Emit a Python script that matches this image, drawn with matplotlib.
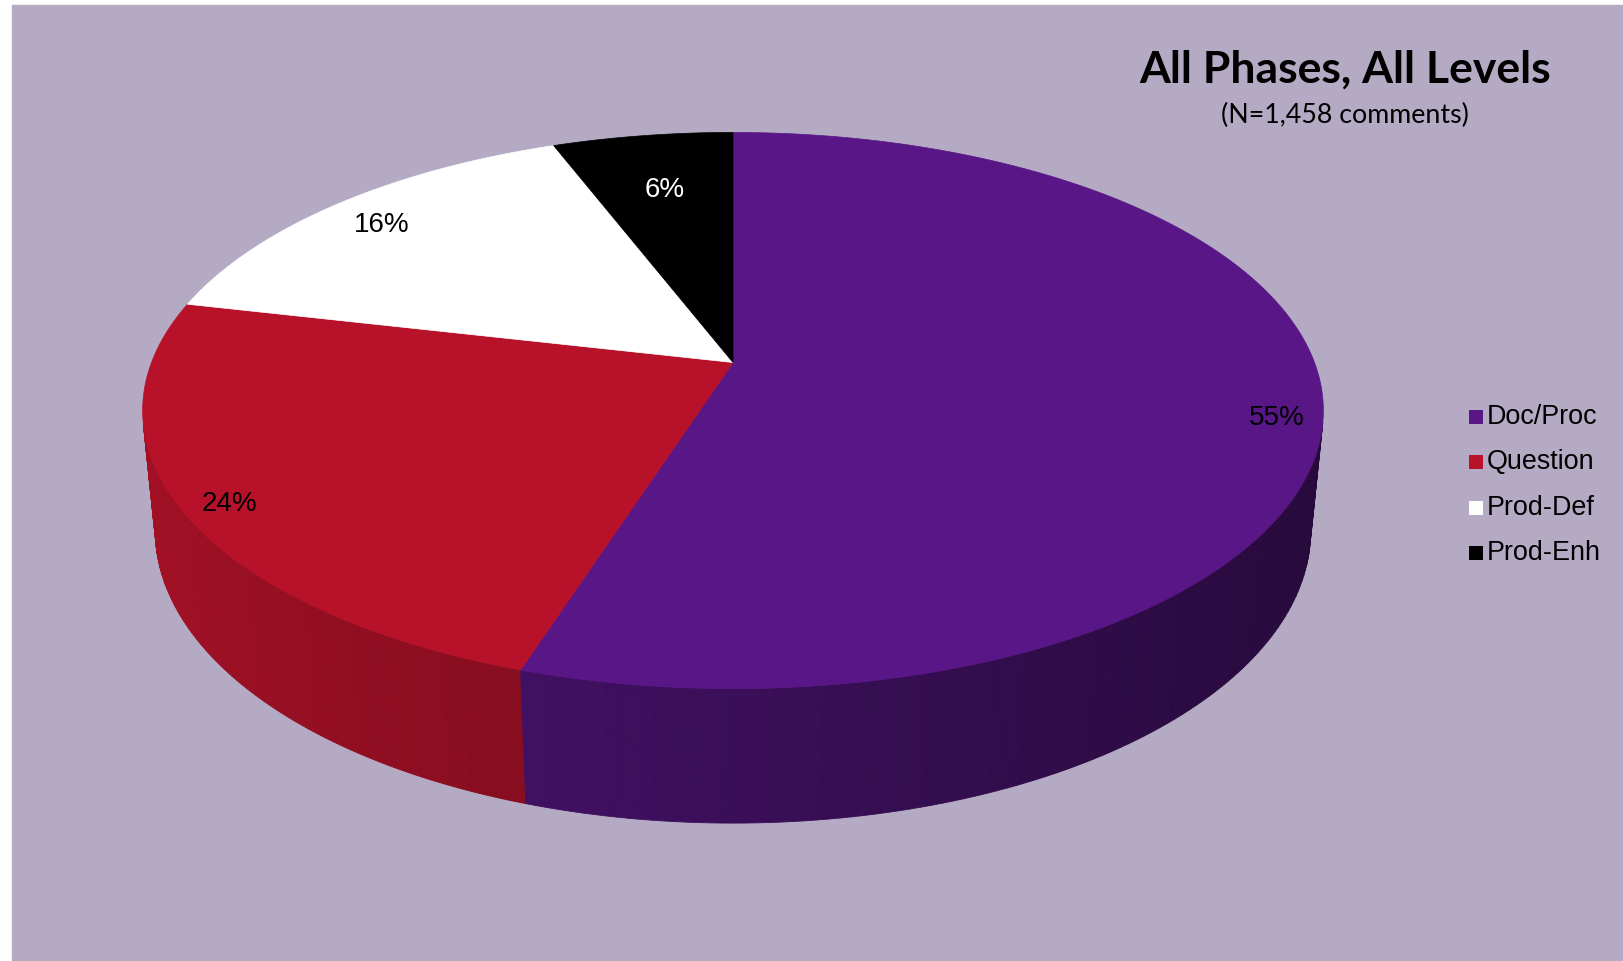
import numpy as np
import matplotlib
matplotlib.use("Agg")
import matplotlib.pyplot as plt
from matplotlib.patches import Polygon, Rectangle

# comment counts per category (N = 1,458)
categories = ["Doc/Proc", "Question", "Prod-Def", "Prod-Enh"]
counts = [801, 345, 227, 85]
colors = ["#581686", "#b8122a", "#ffffff", "#000000"]
label_colors = ["black", "black", "black", "white"]
# where each % label sits: radius fraction and height on the disk
label_r = [0.925, 0.92, 0.88, 0.73]
label_z = [-0.03, -0.015, -0.008, 0.0]

title = "All Phases, All Levels"
subtitle = "(N=1,458 comments)"

bg = "#b4aac4"
W, H = 1624, 961

# perspective view of the disk
tilt = np.arcsin(0.464)
dist = 5.13
focal = 2983
cx, cy = 733, 362.5
depth = 0.235


def proj(x, y, z):
    yc = y * np.sin(tilt) + z * np.cos(tilt)
    d = dist + y * np.cos(tilt) - z * np.sin(tilt)
    return cx + focal * x / d, cy - focal * yc / d


def shade(col, f):
    r, g, b = matplotlib.colors.to_rgb(col)
    return (r * f, g * f, b * f)


fig = plt.figure(figsize=(W / 100, H / 100), dpi=100, facecolor="white")
ax = fig.add_axes([0, 0, 1, 1])
ax.set_xlim(0, W)
ax.set_ylim(H, 0)
ax.axis("off")
ax.add_patch(Rectangle((12, 5), W - 12, H - 5, color=bg, zorder=0))

total = sum(counts)
fracs = [c / total for c in counts]

# slice angles, clockwise from 12 o'clock
starts = []
a0 = 90.0
for fr in fracs:
    starts.append((a0, a0 - 360 * fr))
    a0 -= 360 * fr

# side walls (only the part facing the viewer), far strips first
quads = []
for (t1, t2), col in zip(starts, colors):
    th = np.radians(np.linspace(t1, t2, 200))
    for i in range(len(th) - 1):
        a, b = th[i], th[i + 1]
        m = 0.5 * (a + b)
        if np.sin(m) >= -1 / (dist * np.cos(tilt)):
            continue
        pts = [proj(np.cos(a), np.sin(a), 0), proj(np.cos(b), np.sin(b), 0),
               proj(np.cos(b), np.sin(b), -depth), proj(np.cos(a), np.sin(a), -depth)]
        f = 0.66 - 0.23 * np.cos(m)
        quads.append((np.sin(m), pts, shade(col, f)))
quads.sort(key=lambda q: -q[0])
for _, pts, c in quads:
    ax.add_patch(Polygon(pts, closed=True, facecolor=c, edgecolor=c,
                         linewidth=0.6, zorder=2))

# top faces
for (t1, t2), col in zip(starts, colors):
    th = np.radians(np.linspace(t1, t2, 300))
    xs, ys = proj(np.cos(th), np.sin(th), 0 * th)
    pts = [(cx, cy)] + list(zip(xs, ys))
    ax.add_patch(Polygon(pts, closed=True, facecolor=col, edgecolor=col,
                         linewidth=0.5, zorder=3))

# percentage labels
for (t1, t2), fr, lc, rr, zz in zip(starts, fracs, label_colors, label_r, label_z):
    m = np.radians(0.5 * (t1 + t2))
    lx, ly = proj(rr * np.cos(m), rr * np.sin(m), zz)
    ax.text(lx, ly, f"{fr * 100:.0f}%", color=lc, fontsize=20,
            family="Liberation Sans", ha="center", va="center", zorder=5)

# title
ax.text(1345, 83, title, fontsize=32, fontweight="bold", family="Lato",
        ha="center", va="baseline", zorder=5)
ax.text(1345, 123, subtitle, fontsize=19.3, family="Lato",
        ha="center", va="baseline", zorder=5)

# legend
for i, (cat, col) in enumerate(zip(categories, colors)):
    yy = 417 + 45.3 * i
    ax.add_patch(Rectangle((1469, yy - 7), 14, 14, facecolor=col,
                           edgecolor="none", zorder=5))
    ax.text(1487, yy, cat, fontsize=19.4, family="Liberation Sans",
            ha="left", va="center", zorder=5)

fig.savefig("out.png", dpi=100, facecolor=fig.get_facecolor())
